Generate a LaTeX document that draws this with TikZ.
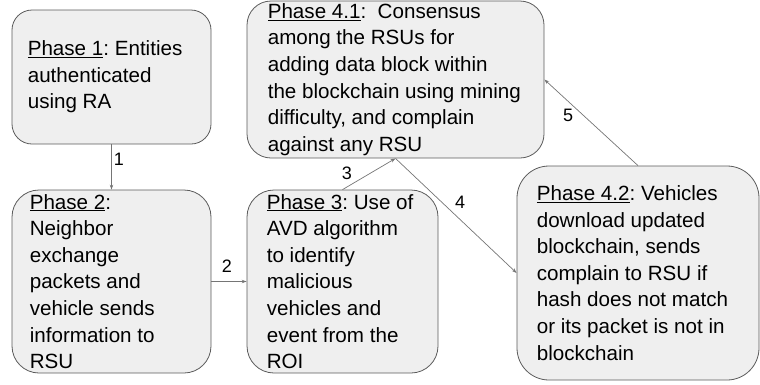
\documentclass[tikz,border=0pt]{standalone}
\usepackage{fontspec}
\setmainfont{Liberation Sans}
\usetikzlibrary{arrows.meta}
\frenchspacing
\definecolor{boxfill}{HTML}{EFEFEF}
\definecolor{boxline}{HTML}{5B5B5B}
\definecolor{arrowline}{HTML}{757575}
\tikzset{
  phasebox/.style={draw=boxline, fill=boxfill, line width=0.8pt, inner sep=0pt},
  phasetext/.style={anchor=west, align=left, inner sep=0pt,
    font=\fontsize{20.6}{26.6}\selectfont, text=black},
  link/.style={draw=arrowline, line width=0.7pt, -{Stealth[length=5pt,width=3.5pt]}},
  linklabel/.style={font=\fontsize{18}{20}\selectfont, inner sep=0pt}
}
\newcommand{\phasename}[1]{\underline{#1}}
\begin{document}
\begin{tikzpicture}[x=1pt,y=-1pt]
\useasboundingbox (0,0) rectangle (760,384);

% boxes
\node[phasebox, minimum width=199pt, minimum height=134pt, rounded corners=20pt] (b1) at (111.5,77) {};
\node[phasebox, minimum width=199pt, minimum height=183pt, rounded corners=27pt] (b2) at (111.5,281.5) {};
\node[phasebox, minimum width=191pt, minimum height=183pt, rounded corners=27pt] (b3) at (342.5,281.5) {};
\node[phasebox, minimum width=297pt, minimum height=157pt, rounded corners=24pt] (b41) at (395.5,79.5) {};
\node[phasebox, minimum width=242pt, minimum height=214pt, rounded corners=32pt] (b42) at (638,273) {};

% texts
\node[phasetext] (t1) at ([xshift=16pt]b1.west) {\phasename{Phase 1}: Entities\\authenticated\\using RA};
\node[phasetext] (t2) at ([xshift=18pt]b2.west) {\phasename{Phase 2}:\\Neighbor\\exchange\\packets and\\vehicle sends\\information to\\RSU};
\node[phasetext] (t3) at ([xshift=20pt]b3.west) {\phasename{Phase 3}: Use of\\AVD algorithm\\to identify\\malicious\\vehicles and\\event from the\\ROI};
\node[phasetext] (t41) at ([xshift=21pt]b41.west) {\phasename{Phase 4.1}:~ Consensus\\among the RSUs for\\adding data block within\\the blockchain using mining\\difficulty, and complain\\against any RSU};
\node[phasetext] (t42) at ([xshift=20pt]b42.west) {\phasename{Phase 4.2}: Vehicles\\download updated\\blockchain, sends\\complain to RSU if\\hash does not match\\or its packet is not in\\blockchain};

% connectors
\draw[link] (b1.south) -- (b2.north);
\draw[link] (b2.east) -- (b3.west);
\draw[link] (b3.north) -- (b41.south);
\draw[link] (b41.south) -- (b42.west);
\draw[link] (b42.north) -- (b41.east);

% connector labels
\node[linklabel] (l1) at (119,159) {1};
\node[linklabel] (l2) at (227,266) {2};
\node[linklabel] (l3) at (347,173) {3};
\node[linklabel] (l4) at (460,202) {4};
\node[linklabel] (l5) at (568,115) {5};
\end{tikzpicture}
\end{document}
